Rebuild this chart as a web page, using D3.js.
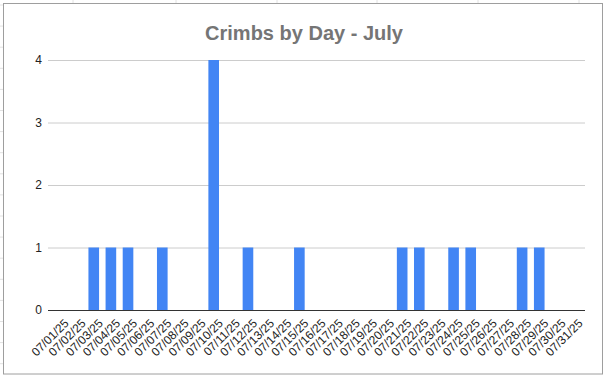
<!DOCTYPE html>
<html>
<head>
<meta charset="utf-8">
<script src="https://cdn.jsdelivr.net/npm/d3@7"></script>
<style>
  body { margin: 0; background: #fff; }
  svg { display: block; font-family: Arial, "Liberation Sans", sans-serif; }
</style>
</head>
<body>
<svg id="chart" width="605" height="376"></svg>
<script>
// data
var days = ['07/01/25','07/02/25','07/03/25','07/04/25','07/05/25','07/06/25','07/07/25','07/08/25',
	'07/09/25','07/10/25','07/11/25','07/12/25','07/13/25','07/14/25','07/15/25','07/16/25',
	'07/17/25','07/18/25','07/19/25','07/20/25','07/21/25','07/22/25','07/23/25','07/24/25',
	'07/25/25','07/26/25','07/27/25','07/28/25','07/29/25','07/30/25','07/31/25'];
var crimbs = [0,0,1,1,1,0,1,0,0,4,0,1,0,0,1,0,0,0,0,0,1,1,0,1,1,0,0,1,1,0,0];
var y_ticks = [0,1,2,3,4];
var title = 'Crimbs by Day - July';

var svg = d3.select('#chart');
var left = 48, right = 585, top_y = 60, bottom = 310;

// faint spreadsheet cells behind the chart frame
var sheet_rows = d3.range(5, 376, 21.1);
var sheet_cols = [73, 176, 277, 377, 478, 579];
svg.selectAll('.srow').data(sheet_rows).enter().append('line')
	.attr('x1', 0).attr('x2', 3).attr('y1', d => d).attr('y2', d => d)
	.attr('stroke', '#e2e2e2');
svg.selectAll('.scol').data(sheet_cols).enter().append('line')
	.attr('x1', d => d).attr('x2', d => d).attr('y1', 0).attr('y2', 3)
	.attr('stroke', '#e2e2e2');

// frame
svg.append('rect').attr('x', 3.5).attr('y', 3.5).attr('width', 599).attr('height', 370.5)
	.attr('fill', '#fff').attr('stroke', '#9e9e9e');

var x = d3.scaleBand().domain(days).range([left, right]).paddingInner(0.38).paddingOuter(0.36);
var y = d3.scaleLinear().domain([0, 4]).range([bottom, top_y]);

// gridlines + y labels
var yAxis = svg.append('g').attr('transform', 'translate(' + left + ',0)')
	.call(d3.axisLeft(y).tickValues(y_ticks).tickSize(-(right - left)).tickPadding(6).tickFormat(d3.format('d')));
yAxis.select('.domain').remove();
yAxis.selectAll('line').attr('stroke', '#cccccc');
yAxis.selectAll('text').attr('fill', '#222').style('font-size', '12px');

// bars
svg.selectAll('.bar').data(days).enter().append('rect')
	.attr('x', d => x(d)).attr('width', x.bandwidth())
	.attr('y', (d, i) => y(crimbs[i])).attr('height', (d, i) => y(0) - y(crimbs[i]))
	.attr('fill', '#4285f4');

// baseline
svg.append('line').attr('x1', left).attr('x2', right).attr('y1', y(0) + 0.5).attr('y2', y(0) + 0.5)
	.attr('stroke', '#333');

// x labels
var xAxis = svg.append('g').attr('transform', 'translate(0,' + bottom + ')')
	.call(d3.axisBottom(x).tickSize(0).tickPadding(0));
xAxis.select('.domain').remove();
xAxis.selectAll('text')
	.attr('fill', '#222').style('font-size', '12px')
	.attr('text-anchor', 'end')
	.attr('transform', 'translate(7,11) rotate(-45)')
	.attr('dy', '0.35em');

// title
svg.append('text').attr('x', 304).attr('y', 40).attr('text-anchor', 'middle')
	.attr('fill', '#757575').style('font-size', '20px').style('font-weight', 'bold')
	.text(title);
</script>
</body>
</html>
